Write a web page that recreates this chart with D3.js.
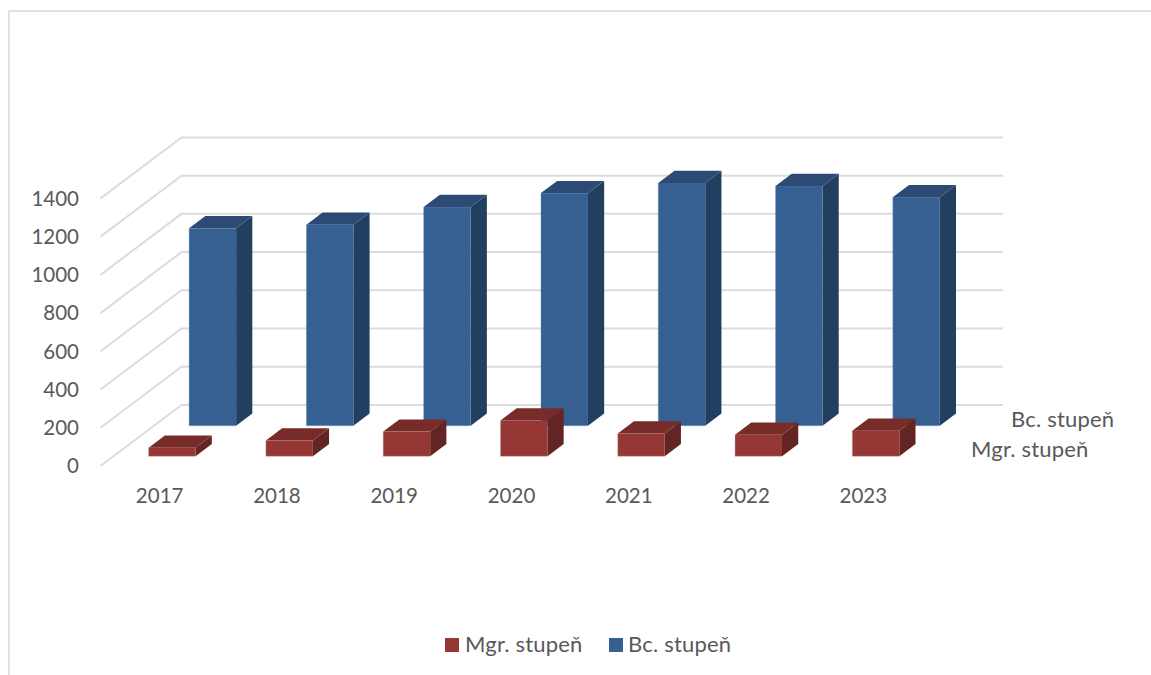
<!DOCTYPE html>
<html><head><meta charset="utf-8">
<script src="https://cdn.jsdelivr.net/npm/d3@7/dist/d3.min.js"></script>
<style>html,body{margin:0;padding:0;background:#fff;overflow:hidden}svg{display:block}
text{font-family:Lato,"Open Sans",sans-serif;fill:#595959}</style></head>
<body><div id="chart"></div>
<script>
const years = ["2017","2018","2019","2020","2021","2022","2023"];
const seriesNames = ["Mgr. stupeň","Bc. stupeň"];
const mgrValues = [45,82,129,187,119,113,134];
const bcValues = [1033,1052,1144,1217,1270,1254,1196];
const yTicks = [0,200,400,600,800,1000,1200,1400];
const colors = {
  "Mgr. stupeň":{front:"#953735",top:"#772c2a",side:"#632523",edge:"#c9a09f"},
  "Bc. stupeň":{front:"#366092",top:"#2c4a73",side:"#233f60",edge:"#7f9ac0"}
};

const W=1151,H=675;
const svg=d3.select("#chart").append("svg").attr("width",W).attr("height",H);
const x0=100.5, floorY=466, depthX=81, depthY=-61;
const barW=47;
const bandX=d3.scaleBand().domain(years).range([x0,921.5]);
const y=d3.scaleLinear().domain([0,1400]).range([0,-267.6]);
const seriesDepth={"Mgr. stupeň":0.16,"Bc. stupeň":0.66};
const barDepth=0.2;

// frame
svg.append("path").attr("d",d3.line()([[9,675],[9,11],[1151,11]]))
  .attr("fill","none").attr("stroke","#d9d9d9").attr("stroke-width",1.5);

// gridlines
const grid=svg.append("g").attr("fill","none").attr("stroke","#dcdcdc").attr("stroke-width",2);
yTicks.forEach(t=>{
  const fy=floorY+y(t);
  grid.append("path").attr("d",d3.line()([
    [x0,fy],[x0+depthX,fy+depthY],[1003,fy+depthY]
  ]));
});

// y labels
const yAxisScale=d3.scaleLinear().domain([0,1400]).range([floorY,floorY-267]);
const yAxis=svg.append("g").attr("transform","translate(79,0)")
  .call(d3.axisLeft(yAxisScale).tickValues(yTicks).tickSize(0).tickPadding(0).tickFormat(d3.format("d")));
yAxis.select(".domain").remove();
yAxis.selectAll("text").attr("font-size",20.5).attr("fill","#595959").style("font-family","Lato");

// x labels
const xAxisScale=d3.scaleBand().domain(years).range([x0,921.5]);
const xAxis=svg.append("g").attr("transform","translate(0.5,487)")
  .call(d3.axisBottom(xAxisScale).tickSize(0).tickPadding(0));
xAxis.select(".domain").remove();
xAxis.selectAll("text").attr("font-size",20.5).attr("dy","0.8em").attr("fill","#595959")
  .style("font-family","Lato");

function drawBars(name,values){
  const c=colors[name], d0=seriesDepth[name];
  const g=svg.append("g").attr("class","series");
  years.forEach((yr,i)=>{
    const left=bandX(yr)+(bandX.bandwidth()-barW)/2+d0*depthX;
    const base=floorY+d0*depthY;
    const h=y(values[i]);
    const dx=barDepth*depthX, dy=barDepth*depthY;
    const l=left,r=left+barW,t=base+h,b=base;
    g.append("path").attr("d",d3.line()([[r,t],[r+dx,t+dy],[r+dx,b+dy],[r,b]])+"Z").attr("fill",c.side);
    g.append("path").attr("d",d3.line()([[l,t],[l+dx,t+dy],[r+dx,t+dy],[r,t]])+"Z").attr("fill",c.top);
    g.append("rect").attr("x",l).attr("y",t).attr("width",barW).attr("height",b-t).attr("fill",c.front);
    g.append("path").attr("d",d3.line()([[l,t],[l,b],[r,b]])).attr("fill","none")
      .attr("stroke",c.edge).attr("stroke-width",0.6).attr("stroke-opacity",0.7);
  });
}
drawBars("Bc. stupeň",bcValues);
drawBars("Mgr. stupeň",mgrValues);

// series depth labels
svg.append("text").attr("x",1011).attr("y",427).attr("font-size",22).attr("letter-spacing",0.2).text(seriesNames[1]);
svg.append("text").attr("x",971).attr("y",457).attr("font-size",22).attr("letter-spacing",0.2).text(seriesNames[0]);

// legend
const legendX=[445,609], textX=[465,628];
seriesNames.forEach((n,i)=>{
  svg.append("rect").attr("x",legendX[i]).attr("y",638).attr("width",14).attr("height",14).attr("fill",colors[n].front);
  svg.append("text").attr("x",textX[i]).attr("y",652).attr("font-size",22).attr("letter-spacing",0.2).text(n);
});
</script></body></html>
